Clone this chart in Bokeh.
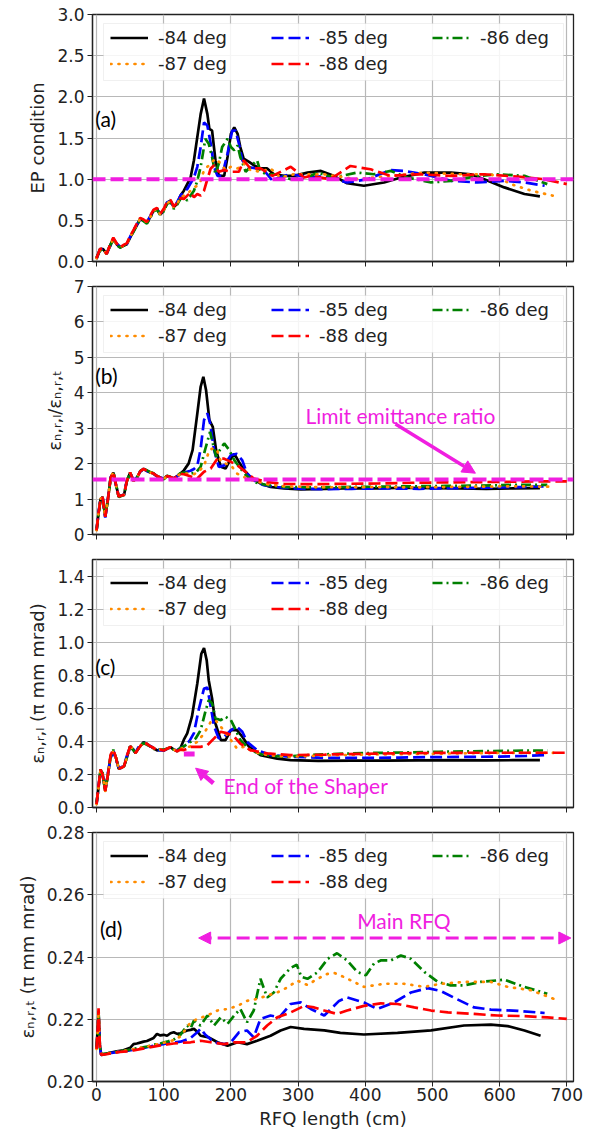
from bokeh.plotting import figure
from bokeh.models import (Range1d, FixedTicker, PrintfTickFormatter, Span, Label, Arrow,
                          NormalHead, Legend, LegendItem, BoxAnnotation)
from bokeh.layouts import column
from bokeh.embed import file_html
from bokeh.resources import INLINE

# ---------------- data ----------------
SERIES = ["-84 deg", "-85 deg", "-86 deg", "-87 deg", "-88 deg"]
XTICKS = [0, 100, 200, 300, 400, 500, 600, 700]

# panel (a): EP condition
AX0 = [0, 5, 10, 15, 20, 25, 30, 35, 40, 45, 50, 55, 60, 65, 70, 75, 80, 85, 90, 95,
       100, 105, 110, 115, 120, 125]
A84_XT = [130, 135, 140, 145, 150, 155, 160, 165, 168, 172, 177, 182, 190, 195, 200, 205, 210, 214, 219, 227,
          234, 244, 254, 264, 279, 294, 314, 334, 353, 373, 398, 428, 453, 488, 528, 557, 577, 607, 637, 660]
A84_Y = [0.03, 0.15, 0.15, 0.09, 0.19, 0.28, 0.21, 0.17, 0.19, 0.21, 0.29, 0.37, 0.44, 0.52, 0.50, 0.47, 0.54, 0.62, 0.64, 0.57,
         0.62, 0.71, 0.74, 0.66, 0.70, 0.80,
         0.86, 0.94, 1.02, 1.23, 1.51, 1.79, 1.98, 1.79, 1.61, 1.59, 1.23, 1.04, 1.04, 1.27, 1.55, 1.63, 1.55, 1.39, 1.25, 1.21,
         1.17, 1.13, 1.13, 1.06, 1.04, 1.04, 1.08, 1.10, 1.04, 0.95, 0.92, 0.96, 1.02, 1.08, 1.08, 1.06, 1.00, 0.90, 0.82, 0.79]
A85_XT = [130, 135, 140, 145, 150, 155, 160, 165, 170, 175, 180, 187, 195, 202, 207, 212, 217, 224, 239, 249,
          262, 272, 289, 319, 338, 373, 403, 438, 458, 488, 528, 567, 607, 637, 667]
A85_Y = [0.04, 0.14, 0.16, 0.10, 0.18, 0.27, 0.22, 0.18, 0.20, 0.21, 0.30, 0.38, 0.45, 0.51, 0.49, 0.48, 0.55, 0.63, 0.63, 0.58,
         0.63, 0.72, 0.73, 0.67, 0.72, 0.80,
         0.85, 0.88, 0.95, 1.02, 1.15, 1.39, 1.69, 1.65, 1.43, 1.15, 1.04, 1.04, 1.31, 1.59, 1.59, 1.43, 1.23, 1.15, 1.13, 1.11,
         0.98, 1.02, 1.06, 1.02, 1.04, 0.96, 1.00, 1.11, 1.10, 1.06, 0.98, 0.96, 0.98, 0.96, 0.92]
A86_XT = [130, 135, 140, 145, 150, 155, 162, 167, 172, 177, 182, 187, 195, 200, 205, 210, 214, 222, 229, 239,
          244, 254, 269, 289, 314, 329, 353, 388, 413, 438, 463, 498, 528, 562, 597, 637, 671]
A86_Y = [0.05, 0.13, 0.15, 0.10, 0.19, 0.27, 0.20, 0.17, 0.19, 0.22, 0.29, 0.36, 0.44, 0.51, 0.49, 0.46, 0.53, 0.61, 0.63, 0.56,
         0.61, 0.70, 0.72, 0.64, 0.69, 0.76,
         0.78, 0.74, 0.80, 0.86, 0.98, 1.15, 1.49, 1.43, 1.27, 1.06, 1.19, 1.39, 1.49, 1.39, 1.35, 1.41, 1.27, 1.09, 1.15, 1.23,
         1.09, 1.06, 1.06, 1.00, 1.02, 1.08, 1.02, 1.08, 1.06, 1.10, 1.02, 0.96, 0.98, 1.03, 1.06, 1.04, 0.94]
A87_XT = [130, 135, 140, 145, 150, 155, 160, 165, 170, 177, 185, 192, 200, 210, 219, 229, 244, 259, 274, 294,
          338, 388, 438, 488, 538, 587, 617, 647, 679]
A87_Y = [0.04, 0.14, 0.15, 0.09, 0.19, 0.28, 0.21, 0.18, 0.19, 0.21, 0.30, 0.37, 0.45, 0.52, 0.50, 0.48, 0.54, 0.62, 0.64, 0.57,
         0.62, 0.71, 0.73, 0.66, 0.70, 0.78,
         0.80, 0.82, 0.86, 0.90, 0.92, 0.98, 1.11, 1.15, 1.19, 1.25, 1.19, 1.11, 1.15, 1.13, 1.19, 1.11, 1.09, 1.13, 1.02, 1.06,
         1.06, 1.00, 1.04, 1.08, 1.06, 1.06, 0.94, 0.86, 0.80]
A88_XT = [130, 135, 140, 145, 150, 155, 160, 165, 170, 175, 182, 190, 200, 212, 219, 229, 244, 262, 289, 309,
          319, 348, 378, 408, 438, 478, 528, 577, 627, 666, 700]
A88_Y = [0.04, 0.15, 0.16, 0.09, 0.20, 0.29, 0.22, 0.17, 0.20, 0.22, 0.31, 0.38, 0.46, 0.53, 0.51, 0.48, 0.56, 0.63, 0.65, 0.58,
         0.64, 0.72, 0.75, 0.67, 0.71, 0.77,
         0.76, 0.80, 0.84, 0.78, 0.82, 0.80, 0.86, 1.00, 1.13, 1.17, 1.09, 1.11, 1.09, 1.09, 1.23, 1.13, 1.13, 1.04, 1.15, 1.02,
         1.04, 1.00, 1.16, 1.12, 1.04, 1.06, 1.04, 1.06, 1.03, 1.00, 0.94]

# panel (b): emittance ratio
BX0 = [0, 3, 6, 9, 13, 17, 21, 25, 29, 33, 37, 41, 45, 50, 55, 60, 65, 70, 75, 80, 85, 90, 95, 100, 105, 110, 115, 120, 125]
B84_XT = [130, 137, 143, 150, 155, 159, 163, 168, 173, 178, 185, 192, 200, 205, 212, 220, 229, 244, 259, 279,
          304, 340, 380, 420, 460, 500, 540, 580, 620, 660]
B84_Y = [0.12, 0.60, 1.00, 1.05, 0.50, 1.00, 1.60, 1.75, 1.40, 1.07, 1.10, 1.12, 1.50, 1.74, 1.52, 1.60, 1.78, 1.85, 1.80, 1.75,
         1.72, 1.65, 1.60, 1.57, 1.65, 1.62, 1.58, 1.65, 1.72,
         1.81, 2.00, 2.38, 3.41, 4.17, 4.45, 4.08, 3.23, 3.04, 2.38, 1.91, 1.86, 2.14, 2.28, 2.05, 1.81, 1.62, 1.44, 1.34, 1.30,
         1.27, 1.29, 1.31, 1.30, 1.32, 1.31, 1.30, 1.29, 1.30, 1.31]
B85_XT = [130, 140, 145, 150, 155, 160, 165, 169, 175, 182, 190, 200, 209, 217, 224, 234, 249, 269, 289, 330,
          380, 430, 480, 530, 580, 630, 667]
B85_Y = [0.12, 0.62, 1.02, 1.05, 0.48, 1.02, 1.62, 1.74, 1.38, 1.08, 1.10, 1.13, 1.52, 1.73, 1.53, 1.61, 1.77, 1.85, 1.79, 1.74,
         1.71, 1.64, 1.61, 1.58, 1.64, 1.61, 1.59, 1.64, 1.71,
         1.75, 1.80, 1.85, 1.94, 2.42, 3.23, 3.42, 3.14, 2.38, 1.91, 1.95, 2.24, 2.28, 2.09, 1.72, 1.53, 1.39, 1.34, 1.30, 1.28,
         1.29, 1.30, 1.29, 1.31, 1.32, 1.34, 1.36]
B86_XT = [130, 140, 148, 155, 162, 169, 174, 178, 184, 190, 197, 205, 220, 234, 254, 279, 320, 370, 420, 470,
          520, 570, 620, 671]
B86_Y = [0.11, 0.58, 0.98, 1.06, 0.52, 0.98, 1.58, 1.76, 1.42, 1.06, 1.09, 1.12, 1.49, 1.75, 1.51, 1.59, 1.79, 1.86, 1.81, 1.76,
         1.73, 1.66, 1.59, 1.56, 1.66, 1.63, 1.57, 1.66, 1.73,
         1.75, 1.72, 1.75, 1.91, 2.42, 2.90, 2.50, 2.20, 2.40, 2.57, 2.40, 2.10, 1.72, 1.48, 1.39, 1.34, 1.33, 1.34, 1.35, 1.36,
         1.37, 1.38, 1.40, 1.40]
B87_XT = [130, 135, 145, 152, 160, 168, 175, 180, 185, 192, 200, 209, 220, 234, 254, 279, 320, 370, 420, 470,
          520, 570, 620, 680]
B87_Y = [0.12, 0.61, 1.01, 1.04, 0.50, 1.01, 1.61, 1.75, 1.39, 1.07, 1.11, 1.12, 1.51, 1.74, 1.52, 1.60, 1.78, 1.84, 1.80, 1.75,
         1.72, 1.65, 1.60, 1.57, 1.65, 1.62, 1.58, 1.65, 1.71,
         1.72, 1.72, 1.70, 1.78, 1.94, 2.38, 2.45, 2.35, 2.06, 2.00, 1.96, 1.72, 1.62, 1.52, 1.42, 1.36, 1.34, 1.33, 1.34, 1.33,
         1.34, 1.35, 1.36, 1.35]
B88_XT = [130, 135, 143, 150, 160, 170, 180, 190, 200, 209, 219, 234, 254, 279, 320, 370, 420, 470, 520, 570,
          620, 660, 700]
B88_Y = [0.12, 0.60, 1.00, 1.06, 0.50, 1.00, 1.60, 1.76, 1.40, 1.07, 1.10, 1.12, 1.50, 1.75, 1.52, 1.60, 1.78, 1.85, 1.80, 1.75,
         1.72, 1.65, 1.60, 1.57, 1.65, 1.62, 1.58, 1.65, 1.71,
         1.70, 1.67, 1.62, 1.58, 1.77, 1.86, 2.14, 2.14, 2.05, 1.96, 1.81, 1.58, 1.48, 1.43, 1.42, 1.43, 1.44, 1.46, 1.47, 1.48,
         1.49, 1.50, 1.50]

# panel (c): longitudinal emittance
CX0 = [0, 3, 6, 9, 13, 17, 21, 25, 29, 33, 37, 41, 45, 50, 55, 58, 63, 70, 75, 80, 85, 90, 95, 100, 105, 110, 115, 120, 125]
C84_XT = [130, 135, 142, 150, 156, 160, 164, 167, 172, 177, 185, 192, 200, 209, 217, 227, 244, 269, 289, 330,
          380, 430, 480, 530, 580, 620, 660]
C84_Y = [0.02, 0.12, 0.23, 0.20, 0.10, 0.20, 0.31, 0.34, 0.30, 0.235, 0.24, 0.25, 0.30, 0.37, 0.35, 0.33, 0.36, 0.395, 0.385, 0.37,
         0.36, 0.345, 0.35, 0.345, 0.355, 0.365, 0.35, 0.34, 0.36,
         0.41, 0.448, 0.549, 0.75, 0.93, 0.965, 0.89, 0.77, 0.66, 0.508, 0.408, 0.408, 0.468, 0.468, 0.428, 0.367, 0.317, 0.296,
         0.286, 0.282, 0.283, 0.284, 0.285, 0.286, 0.285, 0.286, 0.287]
C85_XT = [130, 138, 145, 152, 160, 165, 170, 175, 182, 190, 200, 209, 217, 224, 239, 259, 289, 340, 400, 450,
          500, 550, 600, 640, 667]
C85_Y = [0.02, 0.13, 0.22, 0.20, 0.11, 0.21, 0.30, 0.34, 0.29, 0.24, 0.24, 0.26, 0.31, 0.36, 0.35, 0.33, 0.37, 0.39, 0.385, 0.37,
         0.36, 0.35, 0.345, 0.345, 0.355, 0.36, 0.35, 0.345, 0.36,
         0.37, 0.40, 0.45, 0.59, 0.72, 0.725, 0.61, 0.49, 0.418, 0.428, 0.468, 0.488, 0.458, 0.397, 0.347, 0.317, 0.307, 0.300,
         0.300, 0.302, 0.305, 0.306, 0.308, 0.312, 0.317]
C86_XT = [130, 140, 148, 155, 162, 167, 172, 177, 185, 192, 200, 205, 214, 229, 249, 279, 314, 360, 410, 460,
          510, 560, 610, 671]
C86_Y = [0.03, 0.12, 0.22, 0.21, 0.10, 0.20, 0.31, 0.35, 0.30, 0.235, 0.245, 0.25, 0.30, 0.37, 0.345, 0.33, 0.36, 0.39, 0.38, 0.37,
         0.355, 0.345, 0.35, 0.35, 0.355, 0.36, 0.35, 0.345, 0.36,
         0.37, 0.397, 0.42, 0.468, 0.58, 0.65, 0.63, 0.54, 0.528, 0.549, 0.528, 0.488, 0.408, 0.347, 0.317, 0.307, 0.317, 0.325,
         0.330, 0.333, 0.337, 0.340, 0.343, 0.345]
C87_XT = [130, 140, 150, 160, 170, 177, 187, 200, 209, 219, 234, 254, 289, 340, 400, 450, 500, 550, 600, 640, 680]
C87_Y = [0.02, 0.12, 0.23, 0.20, 0.10, 0.20, 0.31, 0.34, 0.30, 0.235, 0.24, 0.25, 0.30, 0.37, 0.35, 0.33, 0.36, 0.395, 0.385, 0.37,
         0.36, 0.345, 0.35, 0.345, 0.355, 0.365, 0.35, 0.34, 0.355,
         0.36, 0.37, 0.397, 0.448, 0.518, 0.528, 0.478, 0.408, 0.357, 0.367, 0.337, 0.317, 0.307, 0.315, 0.320, 0.322, 0.325,
         0.328, 0.330, 0.330, 0.330]
C88_XT = [130, 140, 155, 165, 175, 185, 195, 205, 214, 229, 254, 289, 340, 400, 450, 500, 550, 600, 650, 700]
C88_Y = [0.02, 0.13, 0.23, 0.20, 0.10, 0.20, 0.32, 0.35, 0.30, 0.235, 0.24, 0.25, 0.31, 0.37, 0.35, 0.33, 0.36, 0.395, 0.385, 0.37,
         0.36, 0.345, 0.35, 0.345, 0.355, 0.365, 0.35, 0.34, 0.35,
         0.347, 0.367, 0.367, 0.377, 0.418, 0.458, 0.448, 0.428, 0.387, 0.347, 0.327, 0.317, 0.320, 0.325, 0.328, 0.330, 0.331,
         0.331, 0.331, 0.331]

# panel (d): transverse emittance
D84_X = [0, 2, 3, 5, 7, 12, 20, 30, 40, 50, 55, 60, 65, 70, 75, 80, 85, 90, 95, 100,
         105, 110, 115, 120, 125, 130, 135, 140, 145, 150, 155, 167, 180, 195, 210, 224, 239, 259, 274, 289,
         309, 339, 363, 398, 448, 498, 547, 587, 612, 637, 661]
D84_Y = [0.2105, 0.2180, 0.2225, 0.2115, 0.2085, 0.2088, 0.2092, 0.2097, 0.2100, 0.2108, 0.2120, 0.2122, 0.2125, 0.2128,
         0.2130, 0.2135, 0.2140, 0.2153, 0.2148, 0.2150, 0.2147, 0.2155, 0.2158, 0.2153, 0.2155, 0.2160, 0.2164, 0.2166,
         0.2169, 0.2160, 0.2147, 0.2142, 0.2126, 0.2115, 0.2126, 0.2120, 0.2131, 0.2147, 0.2164, 0.2175, 0.2169, 0.2164,
         0.2156, 0.2151, 0.2156, 0.2164, 0.2180, 0.2183, 0.2178, 0.2164, 0.2147]
D85_X = [0, 2, 3, 5, 7, 15, 25, 35, 45, 55, 65, 75, 85, 95, 105, 115, 125, 135, 140, 150,
         155, 162, 175, 190, 200, 212, 224, 234, 244, 259, 272, 289, 304, 319, 339, 361, 373, 398, 418, 443,
         468, 493, 512, 537, 562, 587, 627, 667]
D85_Y = [0.2105, 0.2170, 0.2220, 0.2110, 0.2085, 0.2090, 0.2093, 0.2096, 0.2098, 0.2102, 0.2105, 0.2110, 0.2115, 0.2118,
         0.2122, 0.2125, 0.2128, 0.2135, 0.2140, 0.2158, 0.2170, 0.2150, 0.2126, 0.2120, 0.2126, 0.2158, 0.2164, 0.2142,
         0.2201, 0.2212, 0.2206, 0.2249, 0.2254, 0.2233, 0.2212, 0.2259, 0.2270, 0.2254, 0.2233, 0.2254, 0.2286, 0.2300,
         0.2291, 0.2264, 0.2238, 0.2231, 0.2227, 0.2220]
D86_X = [0, 2, 3, 5, 7, 15, 25, 35, 45, 55, 65, 75, 85, 95, 105, 115, 125, 130, 135, 140,
         145, 150, 155, 165, 175, 185, 195, 205, 214, 224, 234, 244, 254, 264, 274, 289, 298, 305, 314, 329,
         344, 358, 373, 388, 401, 413, 423, 438, 453, 468, 488, 508, 527, 547, 572, 607, 637, 671]
D86_Y = [0.2105, 0.2170, 0.2225, 0.2110, 0.2088, 0.2090, 0.2094, 0.2097, 0.2100, 0.2105, 0.2108, 0.2112, 0.2118, 0.2122,
         0.2128, 0.2135, 0.2150, 0.2165, 0.2180, 0.2170, 0.2196, 0.2185, 0.2180, 0.2212, 0.2180, 0.2206, 0.2185, 0.2212,
         0.2233, 0.2190, 0.2228, 0.2330, 0.2270, 0.2286, 0.2330, 0.2365, 0.2375, 0.2336, 0.2330, 0.2351, 0.2394, 0.2412,
         0.2389, 0.2352, 0.2341, 0.2379, 0.2389, 0.2389, 0.2405, 0.2394, 0.2352, 0.2320, 0.2309, 0.2309, 0.2320, 0.2327,
         0.2304, 0.2282]
D87_X = [0, 2, 3, 5, 7, 15, 25, 35, 45, 55, 65, 75, 85, 95, 105, 115, 125, 130, 140, 150,
         165, 180, 195, 210, 224, 239, 254, 269, 284, 299, 314, 329, 344, 355, 368, 398, 428, 458, 488, 513,
         547, 587, 612, 647, 680]
D87_Y = [0.2105, 0.2170, 0.2225, 0.2110, 0.2088, 0.2090, 0.2093, 0.2096, 0.2100, 0.2104, 0.2108, 0.2112, 0.2117, 0.2122,
         0.2127, 0.2133, 0.2145, 0.2160, 0.2190, 0.2201, 0.2212, 0.2228, 0.2233, 0.2243, 0.2259, 0.2265, 0.2276, 0.2286,
         0.2302, 0.2324, 0.2310, 0.2330, 0.2346, 0.2348, 0.2336, 0.2304, 0.2314, 0.2314, 0.2304, 0.2314, 0.2320, 0.2320,
         0.2304, 0.2293, 0.2266]
D88_X = [0, 2, 3, 5, 7, 15, 25, 35, 45, 55, 65, 75, 85, 95, 105, 115, 125, 140, 155, 170,
         190, 205, 224, 239, 254, 269, 289, 309, 324, 339, 358, 373, 398, 423, 448, 473, 498, 523, 562, 597,
         637, 671, 700]
D88_Y = [0.2105, 0.2180, 0.2235, 0.2110, 0.2085, 0.2088, 0.2092, 0.2095, 0.2097, 0.2100, 0.2104, 0.2108, 0.2112, 0.2116,
         0.2119, 0.2122, 0.2124, 0.2126, 0.2131, 0.2126, 0.2120, 0.2126, 0.2126, 0.2147, 0.2180, 0.2206, 0.2222, 0.2243,
         0.2238, 0.2228, 0.2217, 0.2228, 0.2243, 0.2251, 0.2249, 0.2238, 0.2228, 0.2222, 0.2217, 0.2212, 0.2210, 0.2206,
         0.2201]

# reference levels
EP_LIMIT = 1.0
RATIO_LIMIT = 1.55

# ---------------- styling ----------------
COLORS = ["black", "blue", "green", "darkorange", "red"]
DASHES = ["solid", "12 5", "10 4 2 4", "1 7", "12 5"]
CAPS = ["butt", "butt", "butt", "round", "butt"]
MAG = "#f01ee0"
FONT = "DejaVu Sans"
ANNOT_FONT = "Lato"
FRAME_W = 481
XR = (-6, 710)


def make_panel(height, top, bottom, yrange, yticks, yfmt, ylabel, last):
    p = figure(width=591, height=height, x_range=Range1d(*XR), y_range=Range1d(*yrange),
               output_backend="svg", toolbar_location=None,
               min_border_left=92, min_border_right=18, min_border_top=top, min_border_bottom=bottom)
    p.xaxis.ticker = FixedTicker(ticks=XTICKS)
    p.yaxis.ticker = FixedTicker(ticks=yticks)
    p.yaxis.formatter = PrintfTickFormatter(format=yfmt)
    for ax in (p.xaxis[0], p.yaxis[0]):
        ax.major_tick_out = 5
        ax.major_tick_in = 0
        ax.minor_tick_out = 0
        ax.minor_tick_in = 0
        ax.major_tick_line_color = "#222222"
        ax.axis_line_color = "#222222"
        ax.axis_line_width = 1.3
        ax.major_label_text_font = FONT
        ax.major_label_text_font_size = "17px"
        ax.major_label_text_color = "#222222"
        ax.major_label_standoff = 3
        ax.axis_label_text_font = FONT
        ax.axis_label_text_font_style = "normal"
        ax.axis_label_text_font_size = "18px"
        ax.axis_label_text_color = "#222222"
        ax.axis_label_standoff = 6
    p.yaxis.axis_label = ylabel
    if last:
        p.xaxis.axis_label = "RFQ length (cm)"
        p.xaxis.major_label_standoff = 1
        p.xaxis.axis_label_standoff = 4
    else:
        p.xaxis.major_label_text_color = None
        p.xaxis.major_label_text_font_size = "1px"
        p.xaxis.major_label_standoff = 0
    p.grid.grid_line_color = "#b8b8b8"
    p.grid.grid_line_width = 1.2
    p.outline_line_color = "#222222"
    p.outline_line_width = 1.3
    return p


def add_series(p, xs, ys, frame_h, yrange):
    rs = []
    for x, y, c, d, cap in zip(xs, ys, COLORS, DASHES, CAPS):
        assert len(x) == len(y)
        rs.append(p.line(x, y, line_color=c, line_width=2.7, line_dash=d, line_cap=cap))
    # legend frame (pixel offsets inside the plot frame converted to data units)
    def dx(px):
        return XR[0] + px / FRAME_W * (XR[1] - XR[0])

    def dy(px_from_top):
        return yrange[1] - px_from_top / frame_h * (yrange[1] - yrange[0])
    p.add_layout(BoxAnnotation(left=dx(11), right=dx(471), top=dy(9), bottom=dy(66),
                               fill_color="white", fill_alpha=0.85,
                               line_color="#cccccc", line_width=1, level="annotation"))
    items = [LegendItem(label=lab, renderers=[r]) for lab, r in zip(SERIES, rs)]
    rows = [(items[:3], 13), (items[3:], 39)]
    for row_items, top_px in rows:
        leg = Legend(items=row_items, location=(18, frame_h - top_px - 21), orientation="horizontal",
                     margin=0, padding=0, spacing=0, glyph_width=38, glyph_height=21,
                     label_width=113, label_height=21, label_standoff=10,
                     label_text_font=FONT, label_text_font_size="18px", label_text_color="#222222",
                     border_line_color=None, background_fill_color=None, background_fill_alpha=0)
        p.add_layout(leg, "center")


def panel_tag(p, x, y, text):
    p.add_layout(Label(x=x, y=y, text=text, text_font=ANNOT_FONT, text_font_size="21px",
                       text_color="black", text_baseline="middle"))


def note(p, x, y, text):
    p.add_layout(Label(x=x, y=y, text=text, text_font=ANNOT_FONT, text_font_size="21px",
                       text_color=MAG, text_baseline="middle"))


# (a)
YA = (0, 3.0)
pa = make_panel(273, 14, 12, YA, [0, 0.5, 1.0, 1.5, 2.0, 2.5, 3.0], "%.1f", "EP condition", False)
pa.add_layout(Span(location=EP_LIMIT, dimension="width", line_color=MAG, line_width=4, line_dash="13 5"))
add_series(pa, [AX0 + A84_XT, AX0 + A85_XT, AX0 + A86_XT, AX0 + A87_XT, AX0 + A88_XT],
           [A84_Y, A85_Y, A86_Y, A87_Y, A88_Y], 247, YA)
panel_tag(pa, -2, 1.74, "(a)")

# (b)
YB = (0, 7)
pb = make_panel(273, 13, 12, YB, [0, 1, 2, 3, 4, 5, 6, 7], "%d",
                "\u03b5\u2099,\u1d63,\u2097/\u03b5\u2099,\u1d63,\u209c", False)
pb.add_layout(Span(location=RATIO_LIMIT, dimension="width", line_color=MAG, line_width=4, line_dash="14 5"))
add_series(pb, [BX0 + B84_XT, BX0 + B85_XT, BX0 + B86_XT, BX0 + B87_XT, BX0 + B88_XT],
           [B84_Y, B85_Y, B86_Y, B87_Y, B88_Y], 248, YB)
pb.add_layout(Arrow(end=NormalHead(size=13, fill_color=MAG, line_color=MAG),
                    x_start=445, y_start=3.12, x_end=564, y_end=1.73, line_color=MAG, line_width=3.5))
note(pb, 311, 3.37, "Limit emittance ratio")
panel_tag(pb, -2, 4.5, "(b)")

# (c)
YC = (0, 1.5)
pc = make_panel(273, 13, 12, YC, [0, 0.2, 0.4, 0.6, 0.8, 1.0, 1.2, 1.4], "%.1f",
                "\u03b5\u2099,\u1d63,\u2097 (\u03c0 mm mrad)", False)
add_series(pc, [CX0 + C84_XT, CX0 + C85_XT, CX0 + C86_XT, CX0 + C87_XT, CX0 + C88_XT],
           [C84_Y, C85_Y, C86_Y, C87_Y, C88_Y], 248, YC)
pc.segment(x0=[130], y0=[0.323], x1=[146], y1=[0.323], line_color=MAG, line_width=5)
pc.add_layout(Arrow(end=NormalHead(size=12, fill_color=MAG, line_color=MAG),
                    x_start=174, y_start=0.147, x_end=147.5, y_end=0.238, line_color=MAG, line_width=4.5))
note(pc, 189, 0.135, "End of the Shaper")
panel_tag(pc, -2, 0.85, "(c)")

# (d)
YD = (0.20, 0.28)
pd = make_panel(312, 13, 50, YD, [0.20, 0.22, 0.24, 0.26, 0.28], "%.2f",
                "\u03b5\u2099,\u1d63,\u209c (\u03c0 mm mrad)", True)
add_series(pd, [D84_X, D85_X, D86_X, D87_X, D88_X], [D84_Y, D85_Y, D86_Y, D87_Y, D88_Y], 249, YD)
pd.add_layout(Arrow(start=NormalHead(size=12, fill_color=MAG, line_color=MAG),
                    end=NormalHead(size=12, fill_color=MAG, line_color=MAG),
                    x_start=152, y_start=0.2461, x_end=706, y_end=0.2461,
                    line_color=MAG, line_width=3, line_dash="13 6"))
note(pd, 388, 0.2518, "Main RFQ")
panel_tag(pd, 5, 0.2493, "(d)")

layout = column(pa, pb, pc, pd)
open("out.html", "w").write(file_html(layout, INLINE))
